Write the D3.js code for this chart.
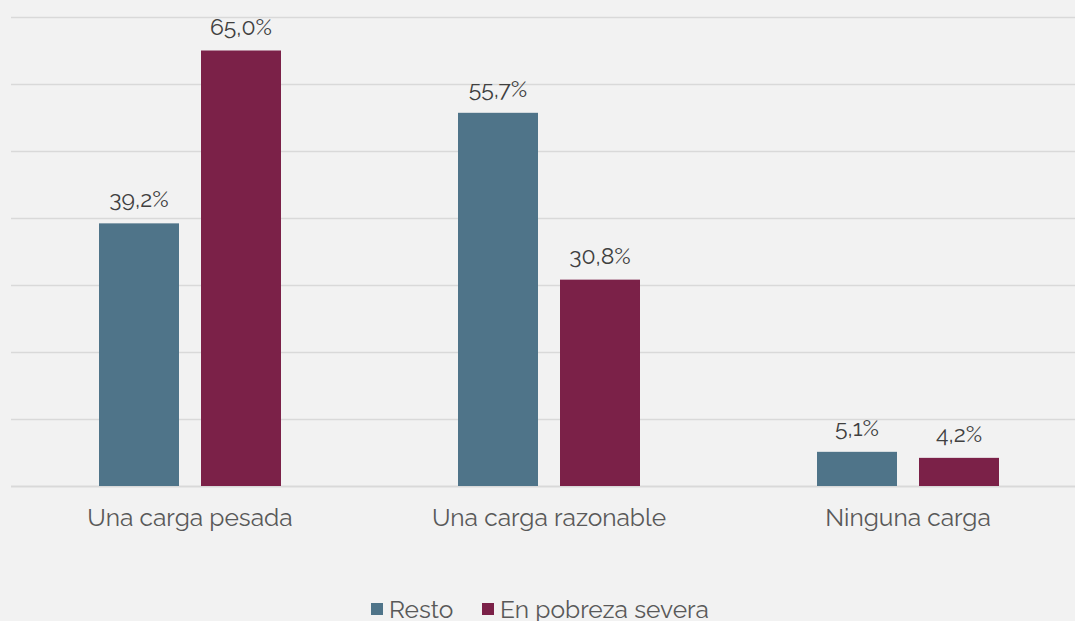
<!DOCTYPE html>
<html>
<head>
<meta charset="utf-8">
<script src="https://cdn.jsdelivr.net/npm/d3@7"></script>
<style>
  body { margin: 0; background: #f2f2f2; }
  svg { display: block; font-family: Raleway, Lato, "Open Sans", sans-serif; }
</style>
</head>
<body>
<script>
var width = 1075;
var height = 621;

var categories = ["Una carga pesada", "Una carga razonable", "Ninguna carga"];
var seriesNames = ["Resto", "En pobreza severa"];
var resto = [39.2, 55.7, 5.1];
var pobreza = [65.0, 30.8, 4.2];
var gridTicks = [0, 10, 20, 30, 40, 50, 60, 70];
var colors = ["#4f7489", "#7b2148"];

var svg = d3.select("body").append("svg")
  .attr("width", width)
  .attr("height", height);

svg.append("rect").attr("width", width).attr("height", height).attr("fill", "#f2f2f2");

var x = d3.scaleBand().domain(categories).range([10.5, 1087.5]).paddingInner(0).paddingOuter(0);
var y = d3.scaleLinear().domain([0, 70]).range([486, 17]);

// gridlines
svg.selectAll(".grid")
  .data(gridTicks)
  .enter()
  .append("line")
  .attr("x1", 11)
  .attr("x2", width)
  .attr("y1", function (d) { return Math.round(y(d)) + 0.5; })
  .attr("y2", function (d) { return Math.round(y(d)) + 0.5; })
  .attr("stroke", "#d9d9d9")
  .attr("stroke-width", function (d) { return d == 0 ? 2 : 1.5; });

var barW = 80;
var gap = 22;
var data = [];
categories.forEach(function (c, i) {
  data.push({ cat: c, s: 0, v: resto[i] });
  data.push({ cat: c, s: 1, v: pobreza[i] });
});

function barX(d) {
  var cx = x(d.cat) + x.bandwidth() / 2;
  return d.s == 0 ? cx - gap / 2 - barW : cx + gap / 2;
}

svg.selectAll(".bar")
  .data(data)
  .enter()
  .append("rect")
  .attr("x", barX)
  .attr("y", function (d) { return y(d.v); })
  .attr("width", barW)
  .attr("height", function (d) { return y(0) - y(d.v); })
  .attr("fill", function (d) { return colors[d.s]; });

svg.selectAll(".val")
  .data(data)
  .enter()
  .append("text")
  .attr("x", function (d) { return barX(d) + barW / 2; })
  .attr("y", function (d) { return y(d.v) - 16; })
  .attr("text-anchor", "middle")
  .attr("font-size", 23)
  .attr("fill", "#404040")
  .text(function (d) { return d.v.toFixed(1).replace(".", ",") + "%"; });

svg.selectAll(".cat")
  .data(categories)
  .enter()
  .append("text")
  .attr("x", function (d) { return x(d) + x.bandwidth() / 2; })
  .attr("y", 526)
  .attr("text-anchor", "middle")
  .attr("font-size", 24.5)
  .attr("fill", "#595959")
  .text(function (d) { return d; });

// legend
var legend = svg.append("g");
var lx = [371, 482];
seriesNames.forEach(function (n, i) {
  legend.append("rect")
    .attr("x", lx[i])
    .attr("y", 603)
    .attr("width", 12)
    .attr("height", 12)
    .attr("fill", colors[i]);
  legend.append("text")
    .attr("x", lx[i] + 18)
    .attr("y", 618)
    .attr("font-size", 24.5)
    .attr("fill", "#595959")
    .text(n);
});
</script>
</body>
</html>
